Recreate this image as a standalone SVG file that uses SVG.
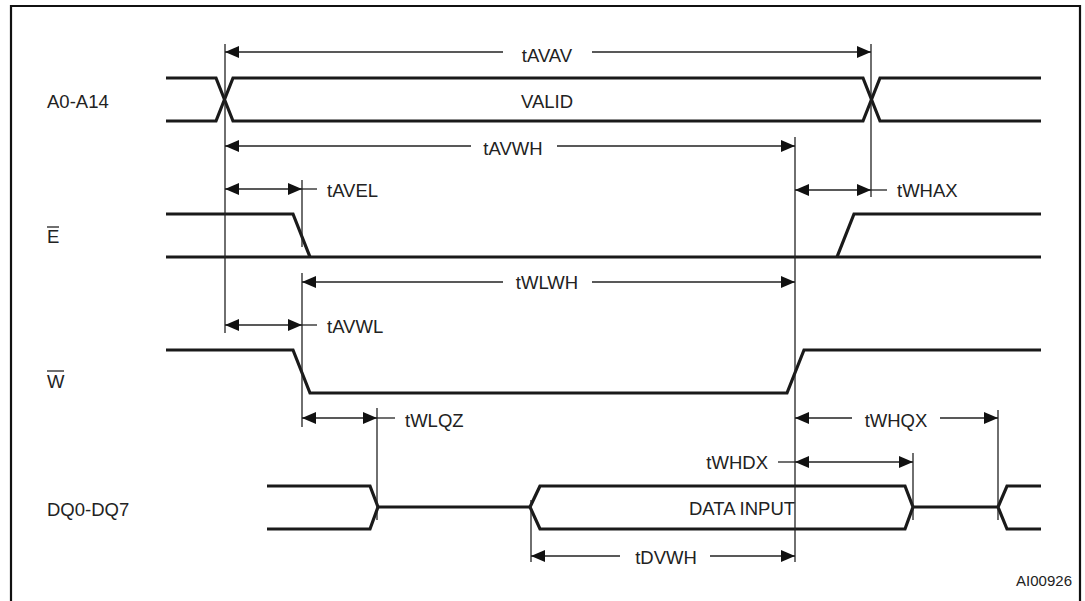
<svg xmlns="http://www.w3.org/2000/svg" width="1085" height="601" viewBox="0 0 1085 601">
<defs>
<marker id="ah" viewBox="0 0 14 12" refX="14" refY="6" markerWidth="14" markerHeight="12" markerUnits="userSpaceOnUse" orient="auto-start-reverse">
<path d="M0,0 L14,6 L0,12 Z" fill="#111"/>
</marker>
</defs>
<style>
.sig{fill:none;stroke:#1a1a1a;stroke-width:3.2;stroke-linejoin:miter}
.ref{fill:none;stroke:#222;stroke-width:1.3}
.dim{fill:none;stroke:#222;stroke-width:1.3}
.arr{fill:none;stroke:#222;stroke-width:1.3;marker-start:url(#ah);marker-end:url(#ah)}
.arrL{fill:none;stroke:#222;stroke-width:1.3;marker-start:url(#ah)}
.arrR{fill:none;stroke:#222;stroke-width:1.3;marker-end:url(#ah)}
text{font-family:"Liberation Sans",Arial,sans-serif;font-size:18.5px;fill:#222}
.small{font-size:15px}
</style>
<rect x="0" y="0" width="1085" height="601" fill="#fff"/>
<path d="M11,640 V6 H1080 V640" fill="none" stroke="#111" stroke-width="2.2"/>

<g id="labels">
<text x="47" y="108">A0-A14</text>
<text x="47" y="243">E</text>
<line x1="47" y1="227" x2="59" y2="227" stroke="#222" stroke-width="1.3"/>
<text x="47" y="388">W</text>
<line x1="47" y1="371" x2="64" y2="371" stroke="#222" stroke-width="1.3"/>
<text x="47" y="516">DQ0-DQ7</text>
<text class="small" x="1072" y="586" text-anchor="end">AI00926</text>
</g>

<g id="signal-A">
<path class="sig" d="M166,78 H216 L233,121 H863 L880,78 H1041"/>
<path class="sig" d="M166,121 H216 L233,78 H863 L880,121 H1041"/>
<text x="547" y="108" text-anchor="middle">VALID</text>
</g>

<g id="signal-E">
<path class="sig" d="M166,214 H293 L310,257"/>
<path class="sig" d="M166,257 H1041"/>
<path class="sig" d="M837,257 L854,214 H1041"/>
</g>

<g id="signal-W">
<path class="sig" d="M166,350 H293 L310,393 H787 L804,350 H1041"/>
</g>

<g id="signal-DQ">
<path class="sig" d="M267,486 H370 L378,507 L370,529 H267"/>
<path class="sig" d="M378,507 H530"/>
<path class="sig" d="M540,486 L530,507 L540,529 H905 L913,507 L905,486 Z"/>
<path class="sig" d="M913,507 H998"/>
<path class="sig" d="M1041,486 H1007 L998,507 L1007,529 H1041"/>
<text x="742" y="515" text-anchor="middle">DATA INPUT</text>
</g>

<g id="connectors">
<!-- reference verticals -->
<line class="ref" x1="225" y1="44" x2="225" y2="333"/>
<line class="ref" x1="871" y1="44" x2="871" y2="197"/>
<line class="ref" x1="795" y1="137" x2="795" y2="562"/>
<line class="ref" x1="302" y1="180" x2="302" y2="247"/>
<line class="ref" x1="302" y1="273" x2="302" y2="427"/>
<line class="ref" x1="377" y1="408" x2="377" y2="520"/>
<line class="ref" x1="998" y1="410" x2="998" y2="520"/>
<line class="ref" x1="913" y1="453" x2="913" y2="520"/>
<line class="ref" x1="531" y1="500" x2="531" y2="562"/>

<!-- tAVAV -->
<line class="arrL" x1="225" y1="52" x2="503" y2="52"/>
<line class="arrR" x1="592" y1="52" x2="871" y2="52"/>
<text x="547" y="62" text-anchor="middle">tAVAV</text>

<!-- tAVWH -->
<line class="arrL" x1="225" y1="146" x2="471" y2="146"/>
<line class="arrR" x1="557" y1="146" x2="795" y2="146"/>
<text x="513" y="155" text-anchor="middle">tAVWH</text>

<!-- tAVEL -->
<line class="arr" x1="225" y1="189" x2="302" y2="189"/>
<line class="dim" x1="302" y1="189" x2="317" y2="189"/>
<text x="327" y="197">tAVEL</text>

<!-- tWHAX -->
<line class="arr" x1="795" y1="190" x2="871" y2="190"/>
<line class="dim" x1="871" y1="190" x2="887" y2="190"/>
<text x="897" y="197">tWHAX</text>

<!-- tWLWH -->
<line class="arrL" x1="302" y1="282" x2="503" y2="282"/>
<line class="arrR" x1="592" y1="282" x2="795" y2="282"/>
<text x="547" y="289" text-anchor="middle">tWLWH</text>

<!-- tAVWL -->
<line class="arr" x1="225" y1="325" x2="302" y2="325"/>
<line class="dim" x1="302" y1="325" x2="317" y2="325"/>
<text x="327" y="333">tAVWL</text>

<!-- tWLQZ -->
<line class="arr" x1="302" y1="418" x2="377" y2="418"/>
<line class="dim" x1="377" y1="418" x2="395" y2="418"/>
<text x="405" y="427">tWLQZ</text>

<!-- tWHQX -->
<line class="arrL" x1="795" y1="418" x2="852" y2="418"/>
<line class="arrR" x1="940" y1="418" x2="998" y2="418"/>
<text x="896" y="427" text-anchor="middle">tWHQX</text>

<!-- tWHDX -->
<line class="arr" x1="795" y1="462" x2="913" y2="462"/>
<line class="dim" x1="778" y1="462" x2="795" y2="462"/>
<text x="768" y="469" text-anchor="end">tWHDX</text>

<!-- tDVWH -->
<line class="arrL" x1="531" y1="556" x2="620" y2="556"/>
<line class="arrR" x1="710" y1="556" x2="795" y2="556"/>
<text x="666" y="564" text-anchor="middle">tDVWH</text>
</g>
</svg>
